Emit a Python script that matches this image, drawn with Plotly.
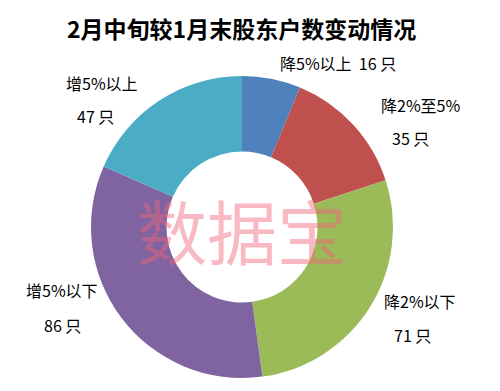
import plotly.graph_objects as go

categories = ["降5%以上", "降2%至5%", "降2%以下", "增5%以下", "增5%以上"]
counts = [16, 35, 71, 86, 47]
unit = "只"
colors = ["#4F81BD", "#C0504D", "#9BBB59", "#8064A2", "#4BACC6"]
title = "2月中旬较1月末股东户数变动情况"
watermark = "数据宝"

W, H = 500, 391
cx, cy, R = 242, 227, 151

fig = go.Figure(go.Pie(
    labels=categories, values=counts, sort=False, direction="clockwise", rotation=0,
    hole=0.5, marker=dict(colors=colors, line=dict(width=0)),
    textinfo="none", hoverinfo="none", showlegend=False,
    domain=dict(x=[(cx - R) / W, (cx + R) / W], y=[(H - cy - R) / H, (H - cy + R) / H]),
))

FONT = "Noto Sans CJK SC, Arial, sans-serif"
font = dict(family=FONT, size=16, color="#000")
# label centre positions in pixels: (name_x, name_y, count_x, count_y)
label_pos = [
    (338, 63, None, None),
    (420, 105, 410, 138),
    (420, 301, 412, 335),
    (62, 290, 62, 325),
    (102, 83, 95, 116),
]


def a(x, y, text, f):
    return dict(x=x / W, y=1 - y / H, xref="paper", yref="paper", text=text,
                showarrow=False, font=f, xanchor="center", yanchor="middle")


ann = []
for i, (nx, ny, vx, vy) in enumerate(label_pos):
    if vx is None:
        ann.append(a(nx, ny, f"{categories[i]}  {counts[i]} {unit}", font))
    else:
        ann.append(a(nx, ny, categories[i], font))
        ann.append(a(vx, vy, f"{counts[i]} {unit}", font))

ann.append(a(241, 28, f"<b>{title}</b>", dict(family=FONT, size=23, color="#000")))
ann.append(a(242, 229, watermark, dict(family=FONT, size=70, color="rgba(240,100,120,0.45)")))

fig.update_layout(width=W, height=H, margin=dict(l=0, r=0, t=0, b=0),
                  paper_bgcolor="white", plot_bgcolor="white", annotations=ann)
fig.write_html("out.html", config={"displayModeBar": False},
               post_script="document.body.style.margin='0';")
